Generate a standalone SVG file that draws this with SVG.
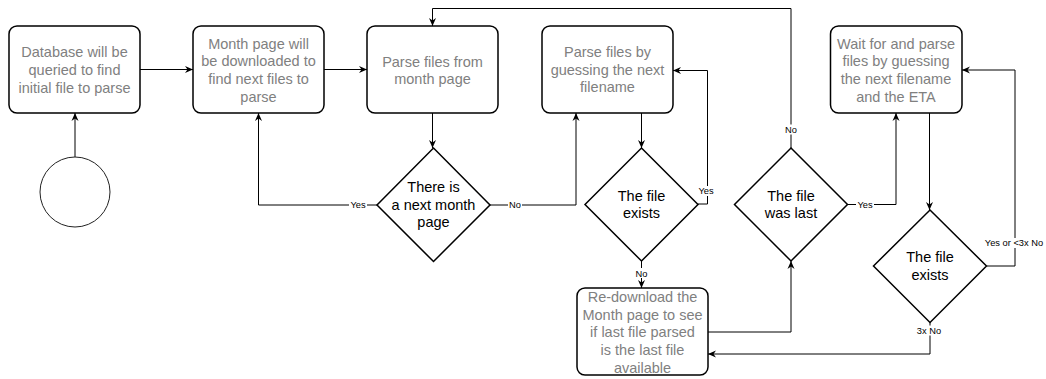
<svg xmlns="http://www.w3.org/2000/svg" width="1046" height="379" viewBox="0 0 1046 379">
  <defs>
    <marker id="arrow" viewBox="0 0 8 8" refX="8" refY="4" markerWidth="8" markerHeight="8" markerUnits="userSpaceOnUse" orient="auto">
      <path d="M0,0.5 L8,4 L0,7.5 L2.5,4 Z" fill="#000"/>
    </marker>
    <style>
      .box { fill: #fff; stroke: #000; stroke-width: 1.5; }
      .dia { fill: #fff; stroke: #000; stroke-width: 1.5; }
      .start { fill: #fff; stroke: #222; stroke-width: 1; }
      .edge { fill: none; stroke: #000; stroke-width: 1; }
      .arr { marker-end: url(#arrow); }
      .btxt { font-family: "Liberation Sans", Arial, Helvetica, sans-serif; font-size: 14.5px; fill: #808080; text-anchor: middle; }
      .dtxt { font-family: "Liberation Sans", Arial, Helvetica, sans-serif; font-size: 14.5px; fill: #000; text-anchor: middle; }
      .lbl { font-family: "Liberation Sans", Arial, Helvetica, sans-serif; font-size: 9.3px; fill: #000; text-anchor: middle; }
      .lblbg { fill: #fff; }
    </style>
  </defs>

  <rect width="1046" height="379" fill="#fff"/>

  <!-- connectors -->
  <g id="connectors">
    <path class="edge arr" d="M75,157 L75,113"/>
    <path class="edge arr" d="M140,69.5 L193,69.5"/>
    <path class="edge arr" d="M324,69.5 L367,69.5"/>
    <path class="edge arr" d="M432.5,113 L432.5,148"/>
    <path class="edge arr" d="M377,205 L258.5,205 L258.5,113"/>
    <path class="edge arr" d="M490,205 L576,205 L576,113"/>
    <path class="edge arr" d="M641.5,113 L641.5,148"/>
    <path class="edge arr" d="M698,204 L707.5,204 L707.5,70.5 L673,70.5"/>
    <path class="edge arr" d="M641.5,261 L641.5,288"/>
    <path class="edge arr" d="M708,332 L791,332 L791,261"/>
    <path class="edge arr" d="M791,148 L791,8.5 L432.5,8.5 L432.5,26"/>
    <path class="edge arr" d="M847,204.5 L896,204.5 L896,113"/>
    <path class="edge arr" d="M929.5,113 L929.5,210"/>
    <path class="edge arr" d="M987,266 L1015,266 L1015,70 L962,70"/>
    <path class="edge arr" d="M930,322 L930,354 L708,354"/>

    <!-- edge labels -->
    <g id="edge-labels">
      <rect class="lblbg" x="349" y="200" width="18" height="10"/>
      <text class="lbl" x="358" y="208.3">Yes</text>
      <rect class="lblbg" x="508" y="200" width="14" height="10"/>
      <text class="lbl" x="515" y="208.3">No</text>
      <rect class="lblbg" x="697" y="186" width="19" height="10"/>
      <text class="lbl" x="706" y="194.3">Yes</text>
      <rect class="lblbg" x="634.5" y="268" width="14" height="10"/>
      <text class="lbl" x="641.5" y="276.6">No</text>
      <rect class="lblbg" x="784" y="124.5" width="14" height="10"/>
      <text class="lbl" x="791" y="132.8">No</text>
      <rect class="lblbg" x="856" y="200" width="18" height="10"/>
      <text class="lbl" x="865" y="208.3">Yes</text>
      <rect class="lblbg" x="984" y="238" width="60" height="10"/>
      <text class="lbl" x="1014" y="246.3">Yes or &lt;3x No</text>
      <rect class="lblbg" x="915" y="325.5" width="28" height="10"/>
      <text class="lbl" x="929" y="334">3x No</text>
    </g>
  </g>

  <!-- start event -->
  <g id="start">
    <circle class="start" cx="75" cy="192" r="35"/>
  </g>

  <!-- process steps -->
  <g id="query-database">
    <rect class="box" x="9" y="26" width="131" height="87" rx="8"/>
    <text class="btxt" x="74.5" y="57.1">Database will be</text>
    <text class="btxt" x="74.5" y="74.9">queried to find</text>
    <text class="btxt" x="74.5" y="92.7">initial file to parse</text>
  </g>

  <g id="download-month-page">
    <rect class="box" x="193" y="26" width="131" height="87" rx="8"/>
    <text class="btxt" x="258.5" y="48.8">Month page will</text>
    <text class="btxt" x="258.5" y="66.4">be downloaded to</text>
    <text class="btxt" x="258.5" y="84">find next files to</text>
    <text class="btxt" x="258.5" y="101.6">parse</text>
  </g>

  <g id="parse-month-page">
    <rect class="box" x="367" y="26" width="131" height="87" rx="8"/>
    <text class="btxt" x="432.5" y="66.5">Parse files from</text>
    <text class="btxt" x="432.5" y="84.1">month page</text>
  </g>

  <g id="parse-by-guessing">
    <rect class="box" x="542" y="26" width="131" height="87" rx="8"/>
    <text class="btxt" x="607.5" y="57.1">Parse files by</text>
    <text class="btxt" x="607.5" y="74.7">guessing the next</text>
    <text class="btxt" x="607.5" y="92.3">filename</text>
  </g>

  <g id="wait-and-parse">
    <rect class="box" x="830.5" y="26" width="131.5" height="87" rx="8"/>
    <text class="btxt" x="896" y="48.8">Wait for and parse</text>
    <text class="btxt" x="896" y="66.4">files by guessing</text>
    <text class="btxt" x="896" y="84">the next filename</text>
    <text class="btxt" x="896" y="101.6">and the ETA</text>
  </g>

  <g id="redownload-month-page">
    <rect class="box" x="577" y="288" width="131" height="87" rx="8"/>
    <text class="btxt" x="642.5" y="302.1">Re-download the</text>
    <text class="btxt" x="642.5" y="319.7">Month page to see</text>
    <text class="btxt" x="642.5" y="337.3">if last file parsed</text>
    <text class="btxt" x="642.5" y="354.9">is the last file</text>
    <text class="btxt" x="642.5" y="372.5">available</text>
  </g>

  <!-- decisions -->
  <g id="next-month-decision">
    <polygon class="dia" points="433.5,148 490,205 433.5,261.5 377,205"/>
    <text class="dtxt" x="433.5" y="192.1">There is</text>
    <text class="dtxt" x="433.5" y="209.7">a next month</text>
    <text class="dtxt" x="433.5" y="227.3">page</text>
  </g>

  <g id="file-exists-decision">
    <polygon class="dia" points="641.5,148 698,204.5 641.5,261 585,204.5"/>
    <text class="dtxt" x="641.5" y="200.5">The file</text>
    <text class="dtxt" x="641.5" y="218.1">exists</text>
  </g>

  <g id="file-was-last-decision">
    <polygon class="dia" points="791,148 847.5,204.5 791,261 734.5,204.5"/>
    <text class="dtxt" x="791" y="200.5">The file</text>
    <text class="dtxt" x="791" y="218.1">was last</text>
  </g>

  <g id="eta-file-exists-decision">
    <polygon class="dia" points="930,210 986.5,266 930,322.5 873.5,266"/>
    <text class="dtxt" x="930" y="262.1">The file</text>
    <text class="dtxt" x="930" y="279.7">exists</text>
  </g>
</svg>
